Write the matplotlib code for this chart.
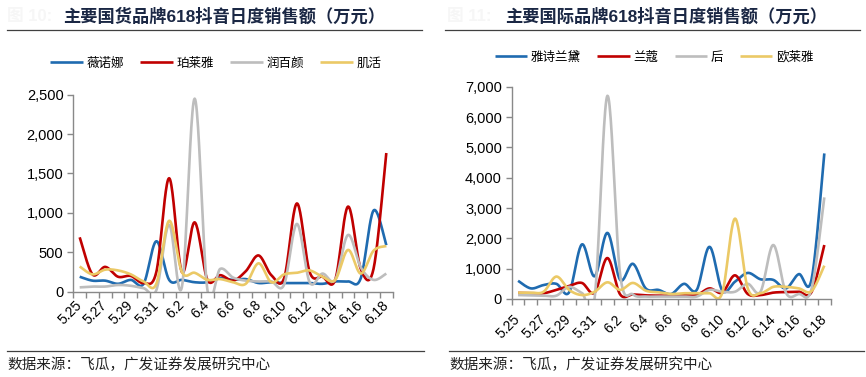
import matplotlib
matplotlib.use('Agg')
import matplotlib.pyplot as plt
from matplotlib.lines import Line2D
from matplotlib.ticker import FuncFormatter
import numpy as np

plt.rcParams['font.family'] = ['Liberation Sans', 'Noto Sans CJK SC', 'DejaVu Sans']

dates = ['5.25', '5.26', '5.27', '5.28', '5.29', '5.30', '5.31',
         '6.1', '6.2', '6.3', '6.4', '6.5', '6.6', '6.7', '6.8', '6.9',
         '6.10', '6.11', '6.12', '6.13', '6.14', '6.15', '6.16', '6.17', '6.18']

# domestic brands
dom_names = ['薇诺娜', '珀莱雅', '润百颜', '肌活']
winona = [190, 140, 140, 100, 150, 100, 640, 150, 150, 120, 120, 170, 150,
          160, 110, 120, 110, 110, 110, 100, 130, 130, 170, 1030, 590]
proya = [690, 220, 315, 190, 200, 110, 250, 1440, 250, 880, 150, 210, 140,
         260, 460, 210, 170, 1120, 250, 190, 150, 1080, 290, 290, 1760]
biohyalux = [55, 65, 65, 85, 75, 45, 20, 850, 60, 2450, 20, 290, 180,
             140, 130, 130, 90, 860, 120, 230, 150, 720, 310, 150, 230]
jihuo = [320, 220, 280, 270, 220, 130, 100, 900, 250, 240, 150, 160, 120,
         100, 360, 120, 220, 240, 270, 190, 150, 530, 230, 520, 580]

# international brands
int_names = ['雅诗兰黛', '兰蔻', '后', '欧莱雅']
estee = [600, 350, 460, 500, 220, 1800, 750, 2180, 630, 1160, 350, 300, 165,
         500, 300, 1720, 280, 570, 860, 650, 630, 350, 820, 650, 4800]
lancome = [200, 190, 190, 300, 430, 530, 210, 1350, 150, 150, 120, 110, 110,
           120, 130, 350, 210, 780, 165, 130, 210, 230, 240, 230, 1780]
whoo = [130, 120, 110, 110, 400, 200, 40, 6700, 800, 150, 80, 80, 80,
        80, 80, 300, 240, 240, 500, 240, 1780, 200, 165, 330, 3350]
loreal = [210, 210, 240, 740, 300, 130, 240, 550, 300, 530, 275, 220, 165,
          190, 190, 190, 200, 2650, 350, 190, 400, 400, 350, 260, 1100]

colors = ['#1F6BB0', '#C00000', '#BDBDBD', '#EBC966']


def smooth(y, n=24):
    y = np.asarray(y, dtype=float)
    x = np.arange(len(y), dtype=float)
    px, py = [], []
    t = np.linspace(0, 1, n)
    for i in range(len(y) - 1):
        i0 = max(i - 1, 0)
        i3 = min(i + 2, len(y) - 1)
        p0 = np.array([x[i0], y[i0]])
        p1 = np.array([x[i], y[i]])
        p2 = np.array([x[i + 1], y[i + 1]])
        p3 = np.array([x[i3], y[i3]])
        c1 = p1 + (p2 - p0) / 6
        c2 = p2 - (p3 - p1) / 6
        b = ((1 - t) ** 3)[:, None] * p1 + (3 * (1 - t) ** 2 * t)[:, None] * c1 \
            + (3 * (1 - t) * t ** 2)[:, None] * c2 + (t ** 3)[:, None] * p2
        px.extend(b[:, 0])
        py.extend(b[:, 1])
    return px, py


W, H = 866, 377
fig = plt.figure(figsize=(W / 100, H / 100), dpi=100)


def fx(p):
    return p / W


def fy(p):
    return 1 - p / H


def panel(rect, series, names, ymax, ystep, legend_xy, label_pad):
    ax = fig.add_axes(rect)
    for s, c, nm in zip(series, colors, names):
        xs, ys = smooth(s)
        ax.plot(xs, ys, color=c, lw=1.9, label=nm, solid_capstyle='butt')
    n = len(dates)
    ax.set_xlim(-0.5, n - 0.5)
    ax.set_ylim(0, ymax)
    ax.set_yticks(np.arange(0, ymax + 1, ystep))
    ax.yaxis.set_major_formatter(FuncFormatter(lambda v, p: '{:,}'.format(int(v))))
    ax.set_xticks(np.arange(0, n, 2))
    ax.set_xticklabels(dates[::2], rotation=45, ha='right', va='center',
                       rotation_mode='anchor')
    ax.set_xticks(np.arange(-0.5, n), minor=True)
    ax.tick_params(axis='x', which='major', length=0, pad=label_pad, labelsize=10)
    ax.tick_params(axis='x', which='minor', length=4, color='#898989', width=1)
    ax.tick_params(axis='y', length=4, color='#898989', width=1, labelsize=10.5, pad=3)
    for sp in ['top', 'right']:
        ax.spines[sp].set_visible(False)
    for sp in ['left', 'bottom']:
        ax.spines[sp].set_color('#898989')
        ax.spines[sp].set_linewidth(1)
    ax.legend(loc='center', bbox_to_anchor=legend_xy, bbox_transform=fig.transFigure,
              ncol=4, frameon=False, handlelength=2.6, handletextpad=0.3,
              columnspacing=1.3, prop={'family': ['Noto Sans CJK SC'], 'size': 9})
    return ax


panel([fx(73.3), 1 - 291.7 / H, fx(392.7 - 73.3), (291.7 - 94.7) / H],
      [winona, proya, biohyalux, jihuo], dom_names, 2500, 500,
      (fx(216), fy(63)), 8)
panel([fx(511.7), 1 - 299 / H, fx(830.7 - 511.7), (299 - 86.7) / H],
      [estee, lancome, whoo, loreal], int_names, 7000, 1000,
      (fx(654), fy(57)), 13)

title_color = '#1A2744'
fig.text(fx(7), fy(16), '图 10:', color='#F6F6F6', fontsize=12, weight='bold', va='center')
fig.text(fx(447), fy(16), '图 11:', color='#F6F6F6', fontsize=12, weight='bold', va='center')
fig.text(fx(224), fy(16), '主要国货品牌618抖音日度销售额（万元）', ha='center', va='center',
         fontsize=12.4, weight='bold', color=title_color)
fig.text(fx(666), fy(16), '主要国际品牌618抖音日度销售额（万元）', ha='center', va='center',
         fontsize=12.4, weight='bold', color=title_color)

for x0, x1 in [(7, 422), (445, 860)]:
    fig.add_artist(Line2D([fx(x0), fx(x1)], [fy(30), fy(30)], color='#404040', lw=0.9))
for x0, x1 in [(7, 424), (449, 864)]:
    fig.add_artist(Line2D([fx(x0), fx(x1)], [fy(351), fy(351)], color='#404040', lw=0.9))

src = '数据来源：飞瓜，广发证券发展研究中心'
fig.text(fx(7), fy(365), src, va='center', fontsize=10.5, family=['Noto Sans CJK SC'], color='#222222')
fig.text(fx(449), fy(365), src, va='center', fontsize=10.5, family=['Noto Sans CJK SC'], color='#222222')

fig.savefig('out.png', dpi=100)
